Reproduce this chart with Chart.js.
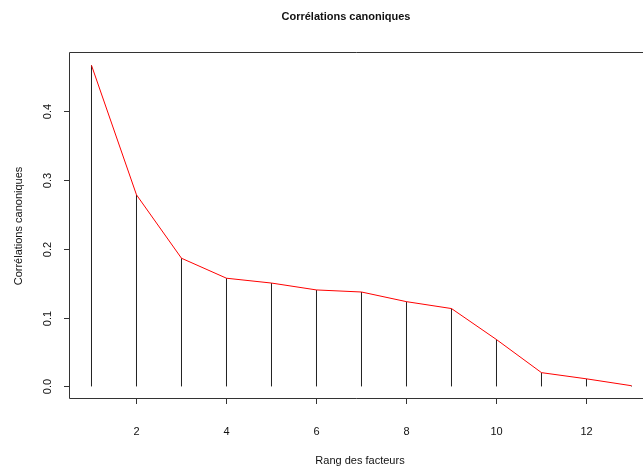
<!DOCTYPE html>
<html>
<head>
<meta charset="utf-8">
<script src="https://cdn.jsdelivr.net/npm/chart.js@4/dist/chart.umd.min.js"></script>
<style>
html,body{margin:0;padding:0;background:#fff;}
#wrap{width:643px;height:466px;}
</style>
</head>
<body>
<div id="wrap"><canvas id="c" width="643" height="466"></canvas></div>
<script>
const ranks = [1,2,3,4,5,6,7,8,9,10,11,12,13];
const correlations = [0.466,0.278,0.186,0.157,0.150,0.140,0.137,0.123,0.113,0.068,0.020,0.011,0.001];
const xTicks = [2,4,6,8,10,12];
const yTicks = [0.0,0.1,0.2,0.3,0.4];
const yTickLabels = ["0.0","0.1","0.2","0.3","0.4"];
const chartTitle = "Corrélations canoniques";
const xTitle = "Rang des facteurs";
const yTitle = "Corrélations canoniques";

const FONT = '"Liberation Sans", Arial, sans-serif';

const points = ranks.map((r,i)=>({x:r,y:correlations[i]}));
// vertical "h"-type segments from 0 to each value, separated by gaps
const stems = [];
ranks.forEach((r,i)=>{
  stems.push({x:r,y:0});
  stems.push({x:r,y:correlations[i]});
  stems.push({x:r,y:null});
});

const decor = {
  id:'decor',
  afterDraw(chart){
    const ctx = chart.ctx, a = chart.chartArea;
    const xs = chart.scales.x, ys = chart.scales.y;
    ctx.save();
    ctx.strokeStyle = '#333';
    ctx.lineWidth = 1;
    ctx.beginPath();
    ctx.moveTo(643, Math.round(a.top)+0.5);
    ctx.lineTo(Math.round(a.left)+0.5, Math.round(a.top)+0.5);
    ctx.lineTo(Math.round(a.left)+0.5, Math.round(a.bottom)+0.5);
    ctx.lineTo(643, Math.round(a.bottom)+0.5);
    ctx.stroke();
    ctx.fillStyle = '#111';
    ctx.font = '11px ' + FONT;
    ctx.textAlign = 'center';
    ctx.textBaseline = 'middle';
    yTicks.forEach((v,i)=>{
      const py = Math.round(ys.getPixelForValue(v))+0.5;
      ctx.beginPath();
      ctx.moveTo(a.left-5, py); ctx.lineTo(a.left, py); ctx.stroke();
      ctx.save();
      ctx.translate(48, py);
      ctx.rotate(-Math.PI/2);
      ctx.fillText(yTickLabels[i], 0, 0);
      ctx.restore();
    });
    xTicks.forEach(v=>{
      const px = Math.floor(xs.getPixelForValue(v))+0.5;
      ctx.beginPath();
      ctx.moveTo(px, a.bottom); ctx.lineTo(px, a.bottom+6); ctx.stroke();
      ctx.fillText(String(v), px, 432);
    });
    ctx.fillText(xTitle, 360, 461);
    ctx.save();
    ctx.translate(19, 226);
    ctx.rotate(-Math.PI/2);
    ctx.fillText(yTitle, 0, 0);
    ctx.restore();
    ctx.font = 'bold 11px ' + FONT;
    ctx.fillText(chartTitle, 346, 17);
    ctx.restore();
  }
};

new Chart(document.getElementById('c'), {
  type: 'line',
  data: {
    datasets: [
      {
        data: points,
        borderColor: '#ff0000',
        borderWidth: 1,
        pointRadius: 0,
        tension: 0,
        fill: false,
        order: 0
      },
      {
        data: stems,
        borderColor: '#222',
        borderWidth: 1,
        pointRadius: 0,
        tension: 0,
        fill: false,
        spanGaps: false,
        order: 1
      }
    ]
  },
  options: {
    responsive: false,
    animation: false,
    devicePixelRatio: 1,
    layout: { padding: { top: 52, right: 0, left: 0, bottom: 0 } },
    plugins: { legend: { display: false }, tooltip: { enabled: false }, title: { display: false } },
    scales: {
      x: {
        type: 'linear',
        min: 0.5, max: 13.2556,
        offset: false,
        grid: { display: false },
        border: { display: false },
        ticks: { display: false },
        afterFit(s){ s.height = 68; }
      },
      y: {
        min: -0.0168, max: 0.4853,
        grid: { display: false },
        border: { display: false },
        ticks: { display: false },
        afterFit(s){ s.width = 69; }
      }
    }
  },
  plugins: [decor]
});
</script>
</body>
</html>
